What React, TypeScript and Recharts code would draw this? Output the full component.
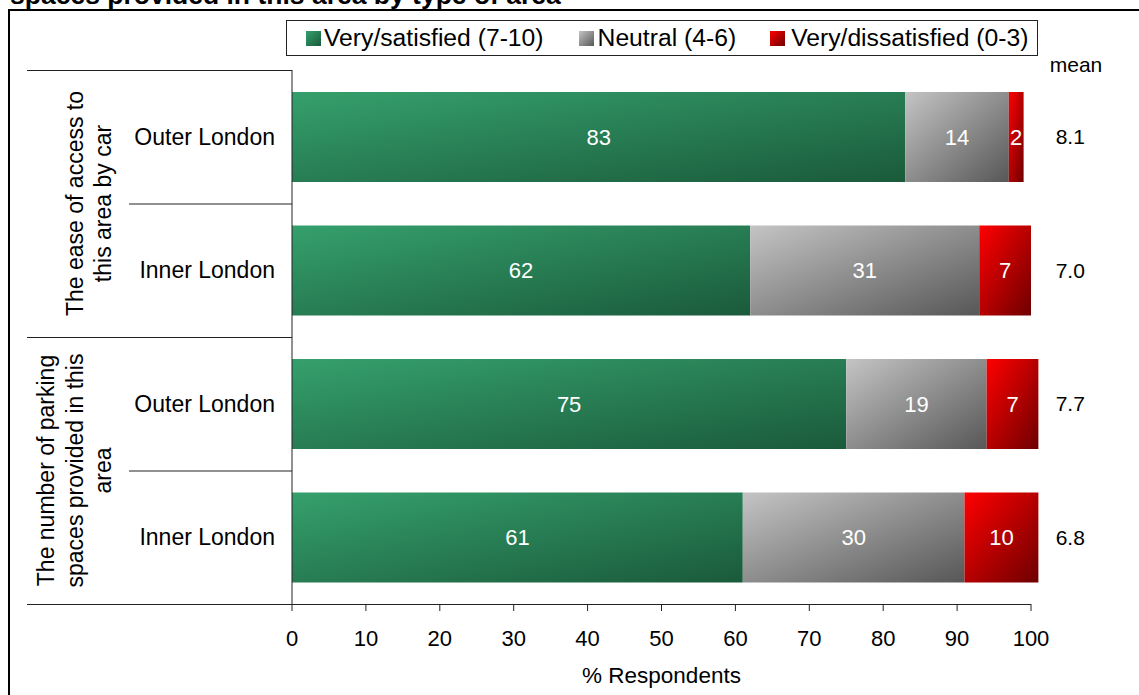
import React from 'react';
import { BarChart, Bar, XAxis, YAxis, LabelList } from 'recharts';

// ---------- data ----------
const areas = ['Outer London', 'Inner London', 'Outer London', 'Inner London'];
const satisfied = [83, 62, 75, 61];
const neutral = [14, 31, 19, 30];
const dissatisfied = [2, 7, 7, 10];
const means = ['8.1', '7.0', '7.7', '6.8'];
const groupLabels = [
  ['The ease of access to', 'this area by car'],
  ['The number of parking', 'spaces provided in this', 'area'],
];
const seriesNames = ['Very/satisfied (7-10)', 'Neutral (4-6)', 'Very/dissatisfied (0-3)'];
const xTicks = [0, 10, 20, 30, 40, 50, 60, 70, 80, 90, 100];
const titleText = 'spaces provided in this area by type of area';
const axisTitle = '% Respondents';
const meanTitle = 'mean';

const data = areas.map((a, i) => ({
  id: `c${i}`,
  area: a,
  satisfied: satisfied[i],
  neutral: neutral[i],
  dissatisfied: dissatisfied[i],
  mean: means[i],
}));

// ---------- style / layout ----------
const FONT = '"Liberation Sans", Arial, Helvetica, sans-serif';
const W = 1139;
const H = 695;
const PLOT_LEFT = 292;
const PLOT_TOP = 70;
const PLOT_BOTTOM = 604;
const UNIT = (1031 - 292) / 100;
const DOMAIN_MAX = 102;
const PLOT_RIGHT = PLOT_LEFT + UNIT * DOMAIN_MAX;
const RIGHT_AXIS_W = 60;
const X_AXIS_H = H - PLOT_BOTTOM;
const BAND = (PLOT_BOTTOM - PLOT_TOP) / areas.length;

const grads = [
  { id: 'gSat', from: '#35a06c', to: '#1a5a3b' },
  { id: 'gNeu', from: '#c4c4c4', to: '#575757' },
  { id: 'gDis', from: '#ff0000', to: '#6e0000' },
];
const seriesKeys = ['satisfied', 'neutral', 'dissatisfied'];
const legendItemMargins = [35, 34, 0];
const legendSwatchGaps = [3, 4, 6];

const AreaTick = (props: any) => {
  const { x, y, payload, index } = props;
  const label = data[index] ? data[index].area : payload.value;
  return (
    <text x={x} y={y} dy="0.355em" textAnchor="end" fill="#000" fontSize={23} fontFamily={FONT}>
      {label}
    </text>
  );
};

const MeanTick = (props: any) => {
  const { x, y, index } = props;
  return (
    <text x={x + 24.5} y={y} dy="0.355em" textAnchor="middle" fill="#000" fontSize={21} fontFamily={FONT}>
      {data[index] ? data[index].mean : ''}
    </text>
  );
};

export default function App() {
  const lineColor = '#222';
  const lineH = 28.5;
  return (
    <div
      style={{
        position: 'fixed',
        left: 0,
        top: 0,
        width: W,
        height: H,
        overflow: 'hidden',
        background: '#fff',
        fontFamily: FONT,
      }}
    >
      <svg width={0} height={0} style={{ position: 'absolute' }}>
        <defs>
          {grads.map((g) => (
            <linearGradient key={g.id} id={g.id} x1="0" y1="0" x2="1" y2="1">
              <stop offset="0%" stopColor={g.from} />
              <stop offset="100%" stopColor={g.to} />
            </linearGradient>
          ))}
        </defs>
      </svg>

      {/* outer frame */}
      <div
        style={{
          position: 'absolute',
          left: 8,
          top: 9,
          width: 2000,
          height: 2000,
          border: '2px solid #000',
        }}
      />

      {/* chart */}
      <div style={{ position: 'absolute', left: 0, top: 0 }}>
        <BarChart
          width={W}
          height={H}
          data={data}
          layout="vertical"
          margin={{ top: PLOT_TOP, left: 0, bottom: 0, right: W - PLOT_RIGHT - RIGHT_AXIS_W }}
          barSize={90}
        >
          <XAxis
            type="number"
            domain={[0, DOMAIN_MAX]}
            ticks={xTicks}
            interval={0}
            height={X_AXIS_H}
            tickSize={7}
            tickMargin={19}
            axisLine={false}
            tickLine={{ stroke: lineColor }}
            tick={{ fill: '#000', fontSize: 22, fontFamily: FONT }}
          />
          <YAxis
            yAxisId="cat"
            type="category"
            dataKey="id"
            width={PLOT_LEFT}
            interval={0}
            tickSize={0}
            tickMargin={17}
            tickLine={false}
            axisLine={{ stroke: lineColor }}
            tick={AreaTick}
          />
          <YAxis
            yAxisId="mean"
            orientation="right"
            type="category"
            dataKey="id"
            width={RIGHT_AXIS_W}
            interval={0}
            tickSize={0}
            tickMargin={0}
            tickLine={false}
            axisLine={false}
            tick={MeanTick}
          />
          {seriesKeys.map((k, i) => (
            <Bar
              key={k}
              dataKey={k}
              name={seriesNames[i]}
              stackId="s"
              yAxisId="cat"
              fill={`url(#${grads[i].id})`}
              isAnimationActive={false}
            >
              <LabelList
                dataKey={k}
                position="center"
                fill="#fff"
                fontSize={22}
                fontFamily={FONT}
              />
            </Bar>
          ))}
        </BarChart>
      </div>

      {/* decorations */}
      <svg
        width={W}
        height={H}
        style={{ position: 'absolute', left: 0, top: 0, pointerEvents: 'none' }}
      >
        <text x={10} y={3.5} fontSize={26.5} fontWeight="bold" fontFamily={FONT} fill="#000">
          {titleText}
        </text>
        {/* x axis line 0..100 */}
        <line
          x1={PLOT_LEFT}
          x2={PLOT_LEFT + UNIT * 100}
          y1={PLOT_BOTTOM + 0.5}
          y2={PLOT_BOTTOM + 0.5}
          stroke={lineColor}
        />
        {/* group separators */}
        {[0, 2, 4].map((k) => (
          <line
            key={`g${k}`}
            x1={27}
            x2={PLOT_LEFT}
            y1={PLOT_TOP + k * BAND + 0.5}
            y2={PLOT_TOP + k * BAND + 0.5}
            stroke={lineColor}
          />
        ))}
        {[1, 3].map((k) => (
          <line
            key={`s${k}`}
            x1={129}
            x2={PLOT_LEFT}
            y1={PLOT_TOP + k * BAND + 0.5}
            y2={PLOT_TOP + k * BAND + 0.5}
            stroke={lineColor}
          />
        ))}
        {groupLabels.map((lines, g) => {
          const cy = PLOT_TOP + (g * 2 + 1) * BAND;
          const cx = 89 - (lines.length - 2) * (lineH / 2);
          return (
            <text
              key={`gl${g}`}
              transform={`translate(${cx},${cy}) rotate(-90)`}
              textAnchor="middle"
              fontSize={23}
              fontFamily={FONT}
              fill="#000"
            >
              {lines.map((l, i) => (
                <tspan key={i} x={0} y={(i - (lines.length - 1) / 2) * lineH} dy="0.355em">
                  {l}
                </tspan>
              ))}
            </text>
          );
        })}
        <text
          x={PLOT_LEFT + UNIT * 50}
          y={683}
          textAnchor="middle"
          fontSize={22.5}
          fontFamily={FONT}
          fill="#000"
        >
          {axisTitle}
        </text>
        <text x={1076} y={72} textAnchor="middle" fontSize={21} fontFamily={FONT} fill="#000">
          {meanTitle}
        </text>
      </svg>

      {/* legend */}
      <div
        style={{
          position: 'absolute',
          left: 286,
          top: 20,
          width: 752,
          height: 36,
          boxSizing: 'border-box',
          border: '1px solid #222',
          background: '#fff',
          display: 'flex',
          alignItems: 'center',
          paddingLeft: 19,
          fontSize: 24.7,
          fontFamily: FONT,
          color: '#000',
          whiteSpace: 'nowrap',
        }}
      >
        {seriesNames.map((n, i) => (
          <div
            key={n}
            style={{ display: 'flex', alignItems: 'center', marginRight: legendItemMargins[i] }}
          >
            <svg width={15} height={15} style={{ marginRight: legendSwatchGaps[i] }}>
              <rect width={15} height={15} fill={`url(#${grads[i].id})`} />
            </svg>
            <span>{n}</span>
          </div>
        ))}
      </div>
    </div>
  );
}
